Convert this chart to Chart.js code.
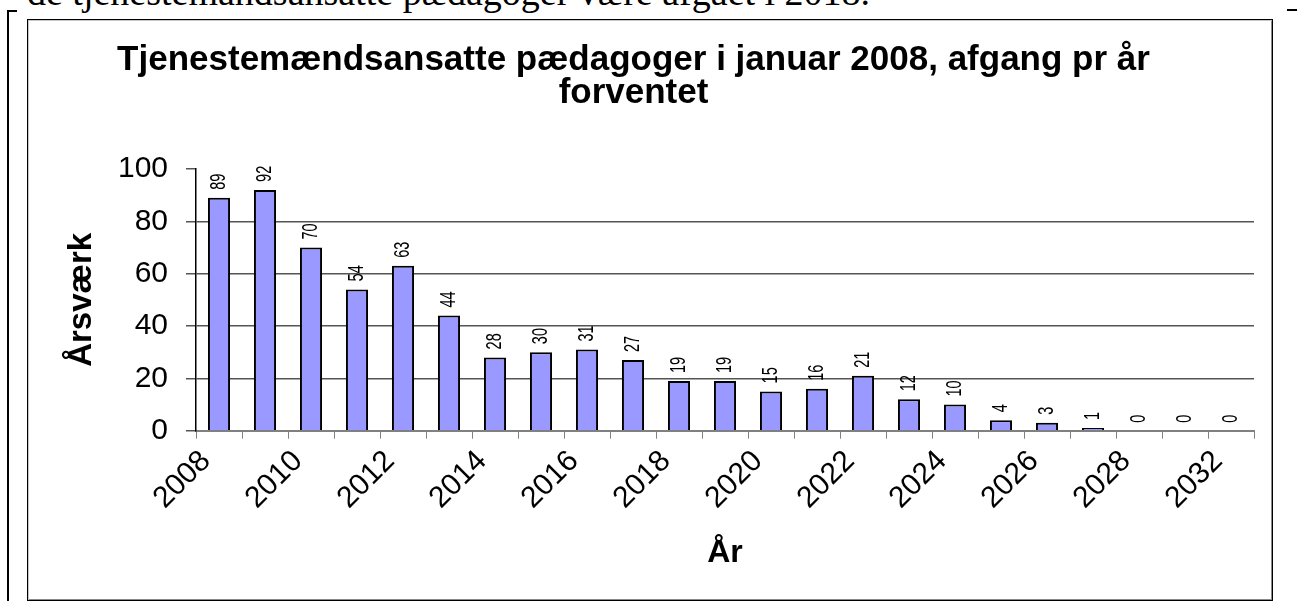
<!DOCTYPE html>
<html>
<head>
<meta charset="utf-8">
<script src="https://cdn.jsdelivr.net/npm/chart.js@4.4.1/dist/chart.umd.min.js"></script>
<style>
  html, body { margin: 0; padding: 0; background: #fff; overflow: hidden; }
  body { width: 1297px; height: 601px; position: relative; }
  #doctext { position: absolute; left: 27px; top: -27px; font: 38px/38px "Liberation Serif", "Times New Roman", serif; white-space: nowrap; color: #000; }
  .rule { position: absolute; background: #000; }
  #box { position: absolute; left: 27px; top: 19px; width: 1244px; height: 580px; border: 1px solid #000; box-shadow: inset 1px 1px 0 #c8c8c8, inset -1px -1px 0 #888; }
  #chart { position: absolute; left: 0; top: 0; }
</style>
</head>
<body>
<div id="doctext">de tjenestemandsansatte pædagoger være afgået i 2018.</div>
<div class="rule" style="left:7px;top:10px;width:2px;height:591px"></div>
<div class="rule" style="left:7px;top:10px;width:10px;height:2px"></div>
<div class="rule" style="left:1287px;top:9px;width:10px;height:2px"></div>
<div id="box"></div>
<canvas id="chart" width="1297" height="601"></canvas>
<script>
// år og forventet afgang (årsværk)
const years = ["2008", "2009", "2010", "2011", "2012", "2013", "2014", "2015", "2016", "2017", "2018",
  "2019", "2020", "2021", "2022", "2023", "2024", "2025", "2026", "2027", "2028", "2030", "2032"];
const afgang = [89, 92, 70, 54, 63, 44, 28, 30, 31, 27, 19, 19, 15, 16, 21, 12, 10, 4, 3, 1, 0, 0, 0];
const yMin = 0;
const yMax = 100;
const yStep = 20;

const chartTitle = ["Tjenestemændsansatte pædagoger i januar 2008, afgang pr år", "forventet"];
const font = '"Liberation Sans", Arial, sans-serif';

// rotated value labels above each bar
const barLabels = {
  id: "barLabels",
  afterDatasetsDraw(chart) {
    const ctx = chart.ctx;
    const meta = chart.getDatasetMeta(0);
    ctx.save();
    ctx.font = "22px " + font;
    ctx.fillStyle = "#000";
    ctx.textBaseline = "middle";
    ctx.textAlign = "left";
    meta.data.forEach((bar, i) => {
      ctx.save();
      ctx.translate(bar.x, bar.y - 8);
      ctx.rotate(-Math.PI / 2);
      ctx.scale(0.66, 1);
      ctx.fillText(String(afgang[i]), 0, 0);
      ctx.restore();
    });
    ctx.restore();
  },
};

Chart.defaults.font.family = font;
Chart.defaults.color = "#000";

new Chart(document.getElementById("chart"), {
  type: "bar",
  data: {
    labels: years,
    datasets: [{
      data: afgang,
      backgroundColor: "#9999ff",
      borderColor: "#000",
      borderWidth: 2,
      barPercentage: 0.48,
      categoryPercentage: 1,
    }],
  },
  options: {
    responsive: false,
    animation: false,
    layout: { padding: { left: 13, right: 43, top: 0, bottom: 0 } },
    plugins: {
      legend: { display: false },
      tooltip: { enabled: false },
      title: {
        display: true,
        text: chartTitle,
        color: "#000",
        font: { size: 35, weight: "bold", lineHeight: 0.943 },
        padding: { top: 44, bottom: 59 },
      },
    },
    scales: {
      x: {
        grid: { display: true, drawOnChartArea: false, offset: true, tickLength: 8, color: "#808080", lineWidth: 1 },
        border: { color: "#808080", width: 2 },
        ticks: {
          autoSkip: false,
          maxRotation: 45,
          minRotation: 45,
          padding: -10,
          labelOffset: -13,
          color: "#000",
          font: { size: 30, lineHeight: 2.6 },
          callback: (v, i) => (i % 2 === 0 ? years[i] : ""),
        },
        title: {
          display: true,
          text: "År",
          color: "#000",
          font: { size: 32, weight: "bold", lineHeight: 1 },
          padding: { top: 0, bottom: 32 },
        },
        afterFit(s) { s.height = 601 - 430.7; },
      },
      y: {
        min: yMin,
        max: yMax,
        ticks: { stepSize: yStep, padding: 18, color: "#000", font: { size: 30 } },
        grid: {
          color: (c) => (c.tick && c.tick.value === yMax ? "rgba(0,0,0,0)" : "#555"),
          tickColor: "#555",
          tickLength: 10,
          lineWidth: 1.5,
        },
        border: { color: "#000", width: 1.5 },
        title: {
          display: true,
          text: "Årsværk",
          color: "#000",
          font: { size: 33, weight: "bold", lineHeight: 1 },
          padding: { top: 52, bottom: 0 },
        },
        afterFit(s) { s.width = 196 - 13; },
      },
    },
  },
  plugins: [barLabels],
});
</script>
</body>
</html>
